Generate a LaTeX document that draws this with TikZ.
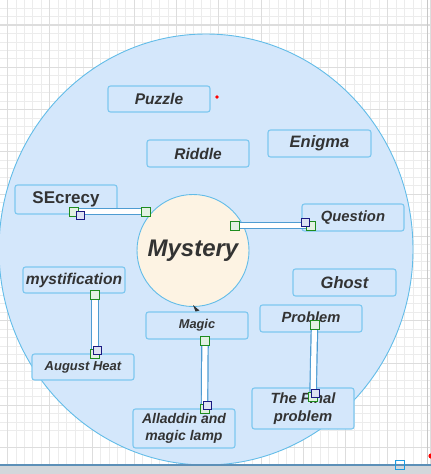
\documentclass[tikz,border=0pt]{standalone}
\usepackage{fontspec}
\usetikzlibrary{shapes.geometric}
\setmainfont{Liberation Sans}
\definecolor{gridminor}{HTML}{ECECEC}
\definecolor{gridmajor}{HTML}{DDDDDD}
\definecolor{bigfill}{HTML}{D4E7FB}
\definecolor{bigline}{HTML}{62BCE8}
\definecolor{boxline}{HTML}{7DC7EF}
\definecolor{txt}{HTML}{333333}
\definecolor{cream}{HTML}{FDF3E3}
\definecolor{barline}{HTML}{4E9CD2}
\definecolor{hgreen}{HTML}{1E8C1E}
\definecolor{hgfill}{HTML}{E2F1E2}
\definecolor{hnavy}{HTML}{1A1A82}
\definecolor{hnfill}{HTML}{DDE2F2}
\definecolor{bandfill}{HTML}{D3D7DB}
\definecolor{bandline}{HTML}{5C90B8}
\definecolor{selcyan}{HTML}{1E9BE0}
\begin{document}
\begin{tikzpicture}[x=1pt,y=-1pt,
  gm/.style={gridminor, line width=0.8pt},
  gM/.style={gridmajor, line width=1pt},
  topic/.style={draw=boxline, line width=1.1pt, fill=bigfill, rounded corners=2.5pt,
    inner sep=0pt, text=txt, align=center, minimum width=102pt, minimum height=27pt},
  fb/.style={font=\fontsize{#1}{#1}\selectfont\bfseries\itshape},
  bar/.style={draw=barline, line width=1.2pt, double=white, double distance=5.2pt},
  ghandle/.style={draw=hgreen, fill=hgfill, line width=0.9pt, minimum size=9pt, inner sep=0pt, rectangle},
  nhandle/.style={draw=hnavy, fill=hnfill, line width=0.9pt, minimum size=8pt, inner sep=0pt, rectangle}]
\useasboundingbox (0,0) rectangle (431,474);
\clip (0,0) rectangle (431,474);
% grid
\foreach \k in {0,...,51} {
  \draw[gm] ({-0.95+8.45*\k},0) -- ({-0.95+8.45*\k},474);
  \draw[gm] (0,{-0.35+8.45*\k}) -- (431,{-0.35+8.45*\k});
}
\foreach \k in {0,...,10} {
  \draw[gM] ({7.5+42.25*\k},0) -- ({7.5+42.25*\k},474);
  \draw[gM] (0,{25+42.25*\k}) -- (431,{25+42.25*\k});
}
\draw[gridmajor, line width=2.2pt] (0,25) -- (431,25);
\draw[gridmajor!90!black, line width=1.6pt] (427.5,0) -- (427.5,474);
% big ellipse
\node[draw=bigline, fill=bigfill, line width=0.9pt, ellipse, minimum width=414pt, minimum height=431pt, inner sep=0pt] (world) at (206,249.5) {};
% topics
\node[topic, fb=15.5, minimum height=26pt] (puzzle) at (159,99) {Puzzle};
\node[topic, fb=15.5] (riddle) at (198,153.5) {Riddle};
\node[topic, fb=16.5, minimum width=103pt] (enigma) at (319.5,143.5) {Enigma};
\node[topic, font=\fontsize{17}{17}\selectfont\bfseries, minimum height=29pt] (secrecy) at (66,199.5) {SEcrecy};
\node[topic, fb=14.8] (question) at (353,217.5) {Question};
\node[topic, fb=15.6, minimum height=26pt] (mystif) at (74,280) {mystification};
\node[topic, fb=16.5, minimum width=103pt] (ghost) at (344.5,282.5) {Ghost};
\node[topic, fb=12.8] (magic) at (197,325.5) {Magic};
\node[topic, fb=14.7] (problem) at (311,318.5) {\raisebox{2pt}{Problem}};
\node[topic, fb=13, minimum height=26pt] (august) at (83,367) {August Heat};
\node[topic, font=\fontsize{14}{17}\selectfont\bfseries\itshape, minimum height=39pt] (aladdin) at (184,428.5) {Alladdin and\\magic lamp};
\node[topic, font=\fontsize{14.8}{18}\selectfont\bfseries\itshape, minimum height=41pt] (final) at (303,408.5) {The Final\\problem};
% central circle
\node[circle, draw=bigline, fill=cream, line width=0.9pt, minimum size=112pt, inner sep=0pt,
  text=txt, font=\fontsize{24}{24}\selectfont\bfseries\itshape] (mystery) at (193,250.5) {Mystery};
% small arrowhead under the circle
\fill[txt] (193,305) -- (199.5,310.5) -- (195.5,311.5) -- cycle;
% connector end points
\coordinate (sA) at (145.5,211.5);
\coordinate (sB) at (73.5,211.5);
\coordinate (sN) at (80.5,215.5);
\coordinate (qA) at (234.5,225.5);
\coordinate (qB) at (311,225.5);
\coordinate (qN) at (305,222.5);
\coordinate (mA) at (95,295);
\coordinate (mB) at (95,354);
\coordinate (mN) at (97,350.5);
\coordinate (gA) at (205,341);
\coordinate (gB) at (204.5,408.5);
\coordinate (gN) at (207,405.5);
\coordinate (pA) at (314.5,324.5);
\coordinate (pB) at (313,397);
\coordinate (pN) at (315.5,393);
% connectors
\draw[bar] (sA) -- (sB);
\draw[bar] (qA) -- (qB);
\draw[bar] (mA) -- (mB);
\draw[bar] (gA) -- (gB);
\draw[bar] (pA) -- (pB);
% handles
\node[ghandle] (hsA) at (sA) {};
\node[ghandle] (hsB) at (sB) {};
\node[nhandle] (hsN) at (sN) {};
\node[ghandle] (hqA) at (qA) {};
\node[ghandle] (hqB) at (qB) {};
\node[nhandle] (hqN) at (qN) {};
\node[ghandle] (hmA) at (mA) {};
\node[ghandle] (hmB) at (mB) {};
\node[nhandle] (hmN) at (mN) {};
\node[ghandle] (hgA) at (gA) {};
\node[ghandle] (hgB) at (gB) {};
\node[nhandle] (hgN) at (gN) {};
\node[ghandle] (hpA) at (pA) {};
\node[ghandle] (hpB) at (pB) {};
\node[nhandle] (hpN) at (pN) {};
% red dots
\fill[red] (217,97) circle (1.8pt);
\fill[red] (431,456) circle (2.6pt);
% bottom band
\fill[bandfill] (0,465) rectangle (431,474);
\draw[bandline, line width=1.3pt] (0,465) -- (431,465);
\node[draw=selcyan, line width=1pt, minimum size=9pt, inner sep=0pt, rectangle] (sel) at (399.5,464.5) {};
\end{tikzpicture}
\end{document}
